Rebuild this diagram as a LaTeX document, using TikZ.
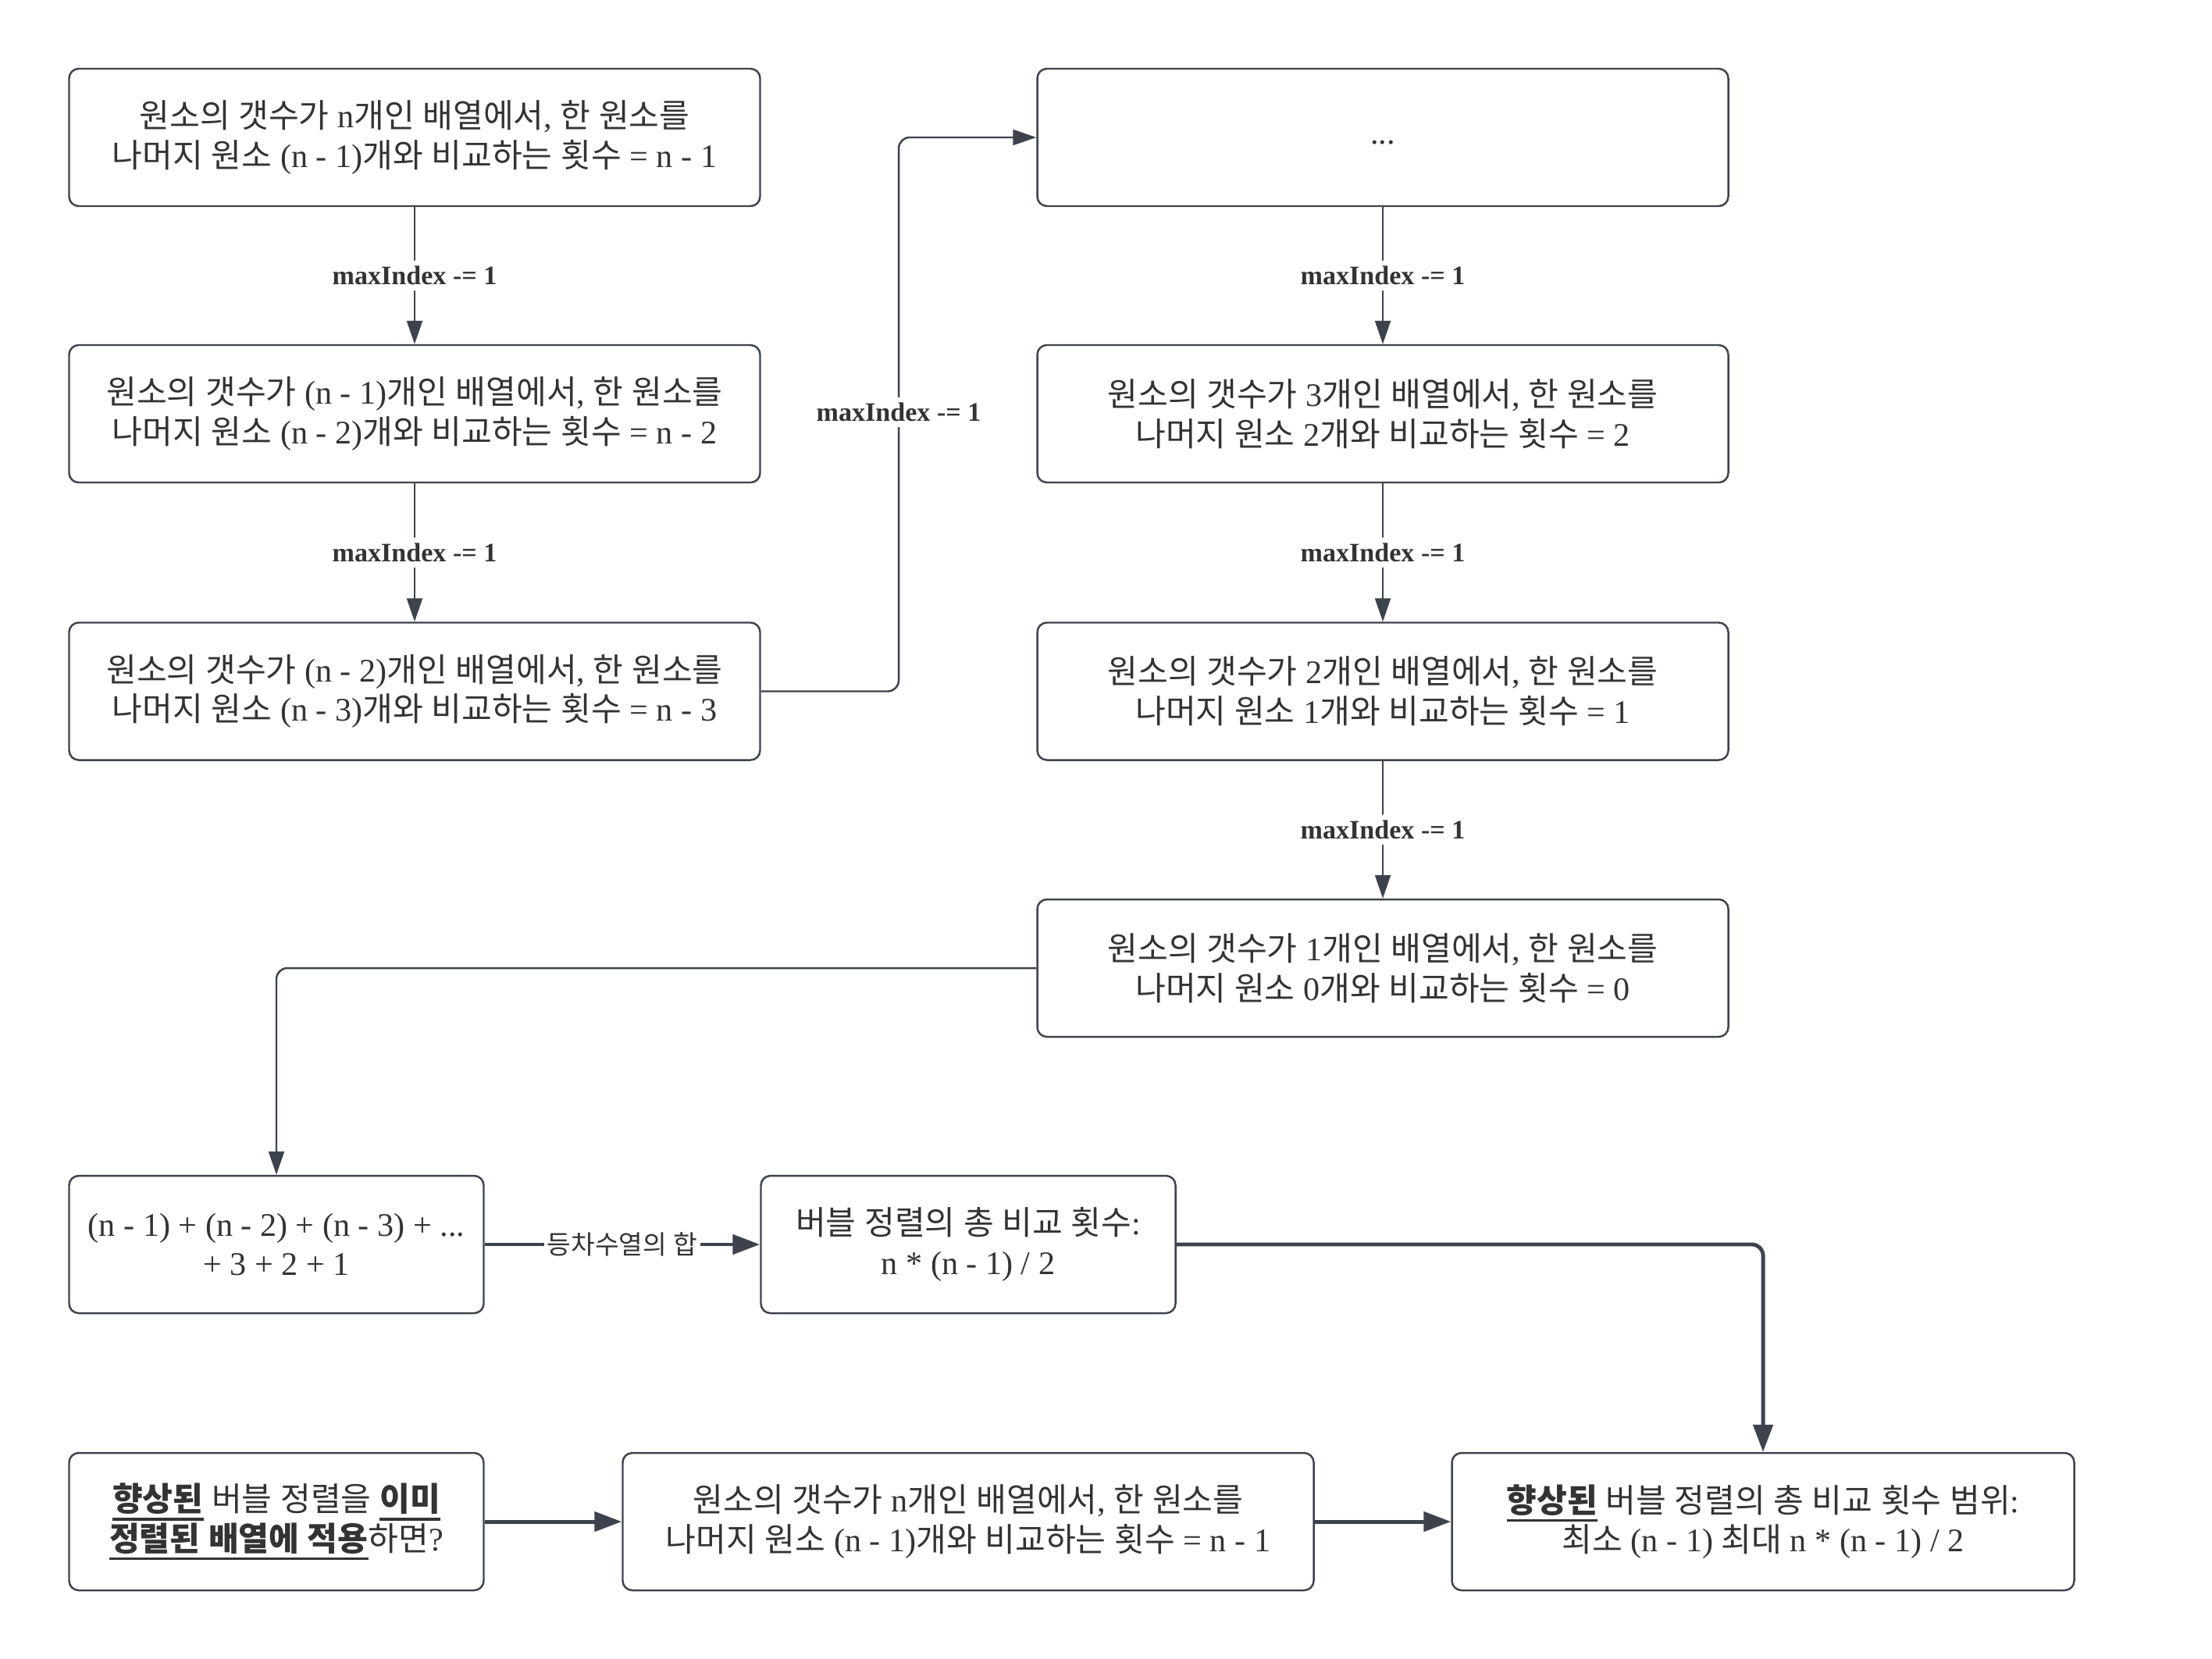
\documentclass[tikz,border=0pt]{standalone}
\usepackage{fontspec}
\setmainfont{Liberation Serif}
\newfontfamily\krfont{Noto Sans CJK KR}
\usetikzlibrary{arrows.meta}
\XeTeXinterchartokenstate=1
\newXeTeXintercharclass\KRclass
\newcount\krcnt
\krcnt="AC00
\loop
  \XeTeXcharclass\krcnt=\KRclass
  \ifnum\krcnt<"D7A3 \advance\krcnt by 1
\repeat
\XeTeXinterchartoks 0 \KRclass = {\krfont}
\XeTeXinterchartoks 4095 \KRclass = {\krfont}
\XeTeXinterchartoks \KRclass 0 = {\rmfamily}
\XeTeXinterchartoks \KRclass 4095 = {\rmfamily}
\newcommand\ulb[1]{\setbox0\hbox{\bfseries #1}\leavevmode\rlap{\rule[-3.4pt]{\wd0}{1pt}}\box0\relax}
\definecolor{ln}{HTML}{3D434D}
\definecolor{tx}{HTML}{333333}
\tikzset{
  box/.style={draw=ln, line width=0.7pt, rounded corners=3.5pt, fill=white,
    minimum height=1.76cm, align=center, text=tx, inner sep=0pt,
    font=\fontsize{12}{14.4}\selectfont},
  wbox/.style={box, minimum width=8.85cm},
  nbox/.style={box, minimum width=5.31cm},
  ebox/.style={box, minimum width=7.97cm},
  conn/.style={draw=ln, line width=0.7pt, rounded corners=4pt,
    -{Triangle[length=0.30cm,width=0.2cm]}},
  tconn/.style={draw=ln, line width=1.4pt, rounded corners=4pt,
    -{Triangle[length=0.35cm,width=0.25cm]}},
  lbl/.style={fill=white, text=tx, inner sep=2pt, font=\bfseries\fontsize{9.7}{11}\selectfont},
  klbl/.style={fill=white, text=tx, inner sep=1pt, font=\fontsize{9.5}{11}\selectfont},
}
\begin{document}
\begin{tikzpicture}
\useasboundingbox (0,0) rectangle (28.33,-21.24);
\fill[white] (0,0) rectangle (28.33,-21.24);

\node[wbox] (L1) at (5.31,-1.76) {원소의 갯수가 n개인 배열에서, 한 원소를\\나머지 원소 (n - 1)개와 비교하는 횟수 = n - 1};
\node[wbox] (L2) at (5.31,-5.30) {원소의 갯수가 (n - 1)개인 배열에서, 한 원소를\\나머지 원소 (n - 2)개와 비교하는 횟수 = n - 2};
\node[wbox] (L3) at (5.31,-8.855) {원소의 갯수가 (n - 2)개인 배열에서, 한 원소를\\나머지 원소 (n - 3)개와 비교하는 횟수 = n - 3};

\node[wbox] (R1) at (17.71,-1.76) {\raisebox{-2.5pt}[0pt][0pt]{...}};
\node[wbox] (R2) at (17.71,-5.30) {원소의 갯수가 3개인 배열에서, 한 원소를\\나머지 원소 2개와 비교하는 횟수 = 2};
\node[wbox] (R3) at (17.71,-8.855) {원소의 갯수가 2개인 배열에서, 한 원소를\\나머지 원소 1개와 비교하는 횟수 = 1};
\node[wbox] (R4) at (17.71,-12.40) {원소의 갯수가 1개인 배열에서, 한 원소를\\나머지 원소 0개와 비교하는 횟수 = 0};

\node[nbox] (A) at (3.54,-15.94) {(n - 1) + (n - 2) + (n - 3) + ...\\+ 3 + 2 + 1};
\node[nbox] (B) at (12.40,-15.94) {버블 정렬의 총 비교 횟수:\\n * (n - 1) / 2};

\node[nbox] (C) at (3.54,-19.49) {\ulb{향상된} 버블 정렬을 \ulb{이미}\\\ulb{정렬된 배열에 적용}하면?};
\node[wbox] (D) at (12.40,-19.49) {원소의 갯수가 n개인 배열에서, 한 원소를\\나머지 원소 (n - 1)개와 비교하는 횟수 = n - 1};
\node[ebox] (E) at (22.58,-19.49) {\ulb{향상된} 버블 정렬의 총 비교 횟수 범위:\\최소 (n - 1) 최대 n * (n - 1) / 2};

\coordinate (j1) at (11.51,-5.28);

\draw[conn] (L1) -- node[lbl]{maxIndex -= 1} (L2);
\draw[conn] (L2) -- node[lbl]{maxIndex -= 1} (L3);
\draw[conn] (L3.east) -| (j1) node[lbl]{maxIndex -= 1} |- (R1.west);
\draw[conn] (R1) -- node[lbl]{maxIndex -= 1} (R2);
\draw[conn] (R2) -- node[lbl]{maxIndex -= 1} (R3);
\draw[conn] (R3) -- node[lbl]{maxIndex -= 1} (R4);
\draw[conn] (R4.west) -| (A.north);
\draw[tconn] (A) -- node[klbl]{등차수열의 합} (B);
\draw[tconn] (B.east) -| (E.north);
\draw[tconn] (C) -- (D);
\draw[tconn] (D) -- (E);
\end{tikzpicture}
\end{document}
